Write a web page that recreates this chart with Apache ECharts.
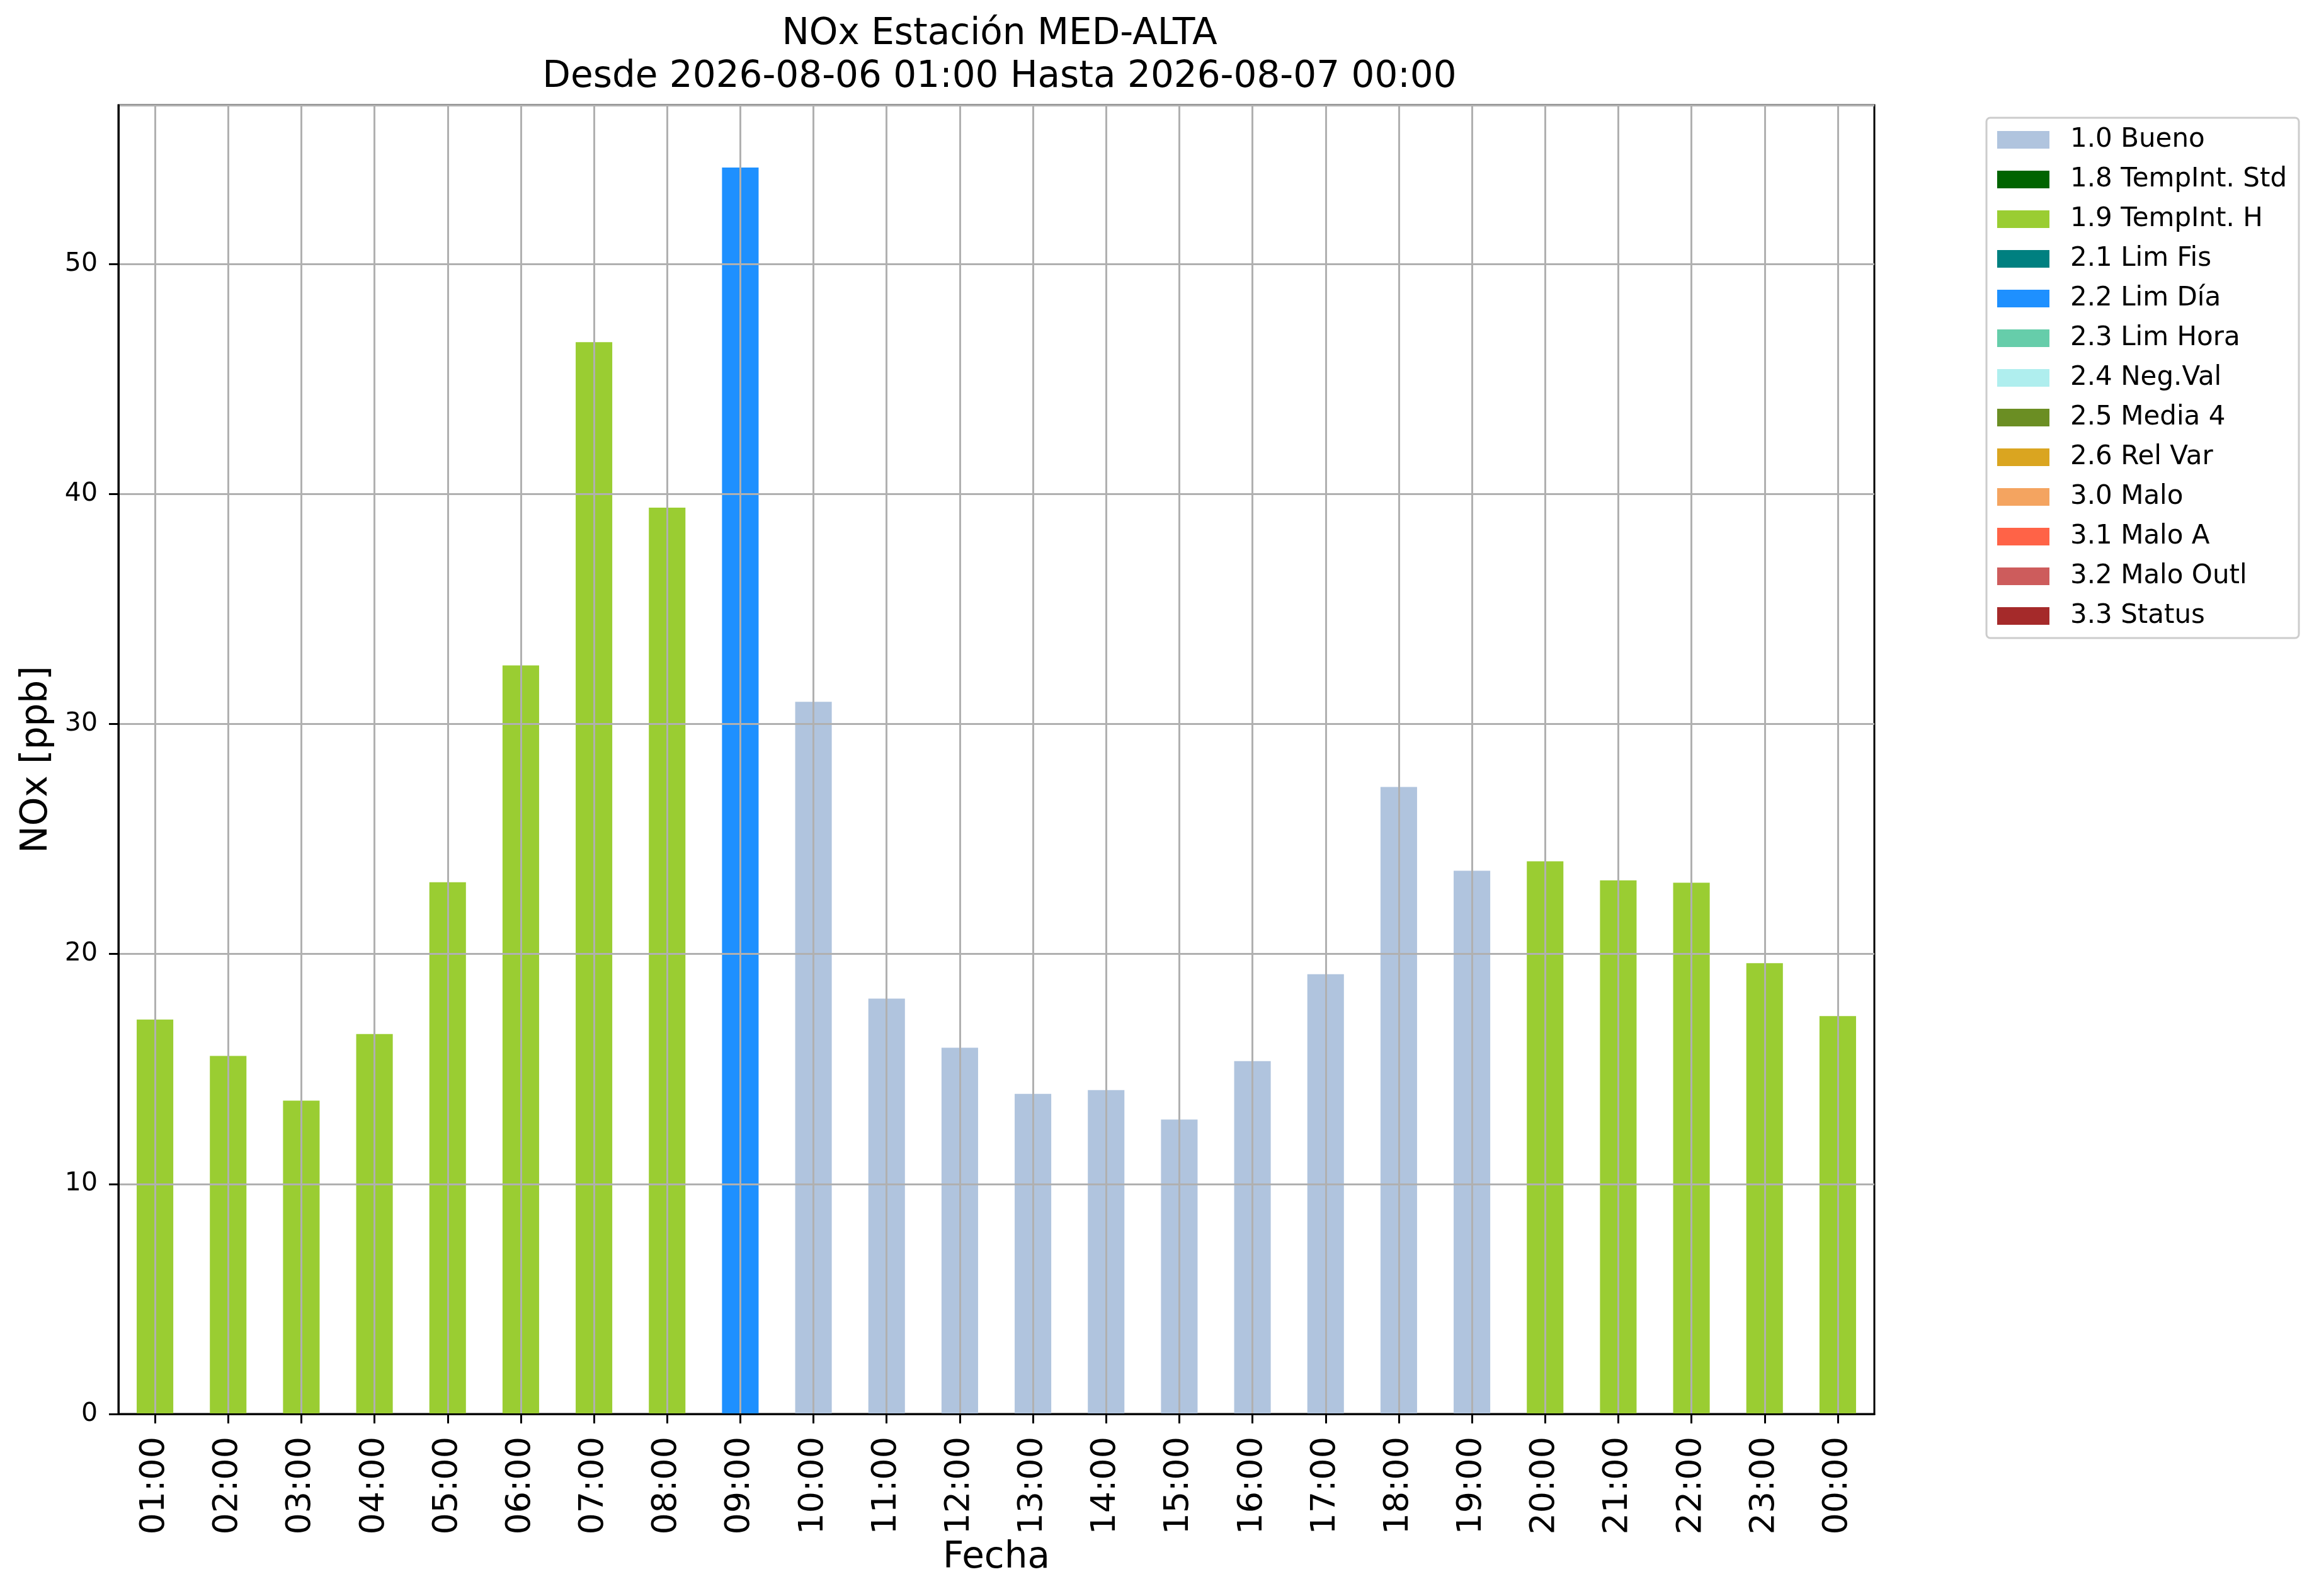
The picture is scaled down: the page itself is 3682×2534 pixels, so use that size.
<!DOCTYPE html>
<html>
<head>
<meta charset="utf-8">
<script src="https://cdn.jsdelivr.net/npm/echarts@6/dist/echarts.min.js"></script>
<style>
html,body{margin:0;padding:0;background:#fff;}
#chart{width:3682px;height:2534px;}
</style>
</head>
<body>
<div id="chart"></div>
<script>
// ---- data ----
const hours = ["01:00","02:00","03:00","04:00","05:00","06:00","07:00","08:00","09:00","10:00","11:00","12:00","13:00","14:00","15:00","16:00","17:00","18:00","19:00","20:00","21:00","22:00","23:00","00:00"];
const noxValues = [17.15,15.57,13.62,16.52,23.12,32.54,46.6,39.4,54.19,30.96,18.06,15.92,13.92,14.08,12.8,15.34,19.12,27.26,23.62,24.03,23.2,23.1,19.6,17.3];
const hourFlags = ["1.9 TempInt. H","1.9 TempInt. H","1.9 TempInt. H","1.9 TempInt. H","1.9 TempInt. H","1.9 TempInt. H","1.9 TempInt. H","1.9 TempInt. H","2.2 Lim Día","1.0 Bueno","1.0 Bueno","1.0 Bueno","1.0 Bueno","1.0 Bueno","1.0 Bueno","1.0 Bueno","1.0 Bueno","1.0 Bueno","1.0 Bueno","1.9 TempInt. H","1.9 TempInt. H","1.9 TempInt. H","1.9 TempInt. H","1.9 TempInt. H"];
const flagNames = ["1.0 Bueno","1.8 TempInt. Std","1.9 TempInt. H","2.1 Lim Fis","2.2 Lim Día","2.3 Lim Hora","2.4 Neg.Val","2.5 Media 4","2.6 Rel Var","3.0 Malo","3.1 Malo A","3.2 Malo Outl","3.3 Status"];
const flagColors = ["#B0C4DE","#006400","#9ACD32","#008080","#1E90FF","#66CDAA","#AFEEEE","#6B8E23","#DAA520","#F4A460","#FF6347","#CD5C5C","#A52A2A"];
const yTicks = [0,10,20,30,40,50];

const FONT = "DejaVu Sans";
const chart = echarts.init(document.getElementById('chart'), null, {renderer:'canvas'});

const yMax = Math.max(...noxValues) * 1.05;

const series = flagNames.map((name, k) => ({
  name: name,
  type: 'bar',
  stack: 'nox',
  barWidth: '50%',
  z: 2,
  itemStyle: {color: flagColors[k]},
  data: noxValues.map((v, i) => hourFlags[i] === name ? v : null)
}));

chart.setOption({
  animation: false,
  backgroundColor: '#ffffff',
  title: {
    text: "NOx Estación MED-ALTA\nDesde 2026-08-06 01:00 Hasta 2026-08-07 00:00",
    left: 1582,
    textAlign: 'center',
    top: 16,
    textStyle: {fontFamily: FONT, fontSize: 58, fontWeight: 'normal', color: '#000', lineHeight: 68}
  },
  legend: {
    orient: 'vertical',
    left: 3154,
    top: 187,
    padding: [14, 19, 14, 17],
    itemWidth: 83,
    itemHeight: 28,
    itemGap: 21,
    icon: 'rect',
    borderColor: '#cccccc',
    borderWidth: 3,
    borderRadius: 6,
    backgroundColor: '#ffffff',
    data: flagNames,
    textStyle: {fontFamily: FONT, fontSize: 42, color: '#000', padding: [0,0,0,28]}
  },
  grid: {
    left: 188, top: 167, right: 706, bottom: 289,
    show: true, borderColor: '#000', borderWidth: 3, backgroundColor: 'transparent'
  },
  xAxis: {
    type: 'category',
    data: hours,
    boundaryGap: true,
    z: 5,
    name: 'Fecha',
    nameLocation: 'middle',
    nameGap: 192,
    nameTextStyle: {fontFamily: FONT, fontSize: 58, color: '#000'},
    axisLine: {show: true, lineStyle: {color: '#000', width: 3}},
    axisTick: {show: true, alignWithLabel: true, length: 15, lineStyle: {color: '#000', width: 3}},
    axisLabel: {rotate: 90, fontFamily: FONT, fontSize: 54, color: '#000', margin: 36, interval: 0},
    splitLine: {show: true, alignWithLabel: true, interval: 0, lineStyle: {color: '#b0b0b0', width: 3}}
  },
  yAxis: {
    type: 'value',
    min: 0,
    max: yMax,
    interval: 10,
    z: 5,
    name: 'NOx [ppb]',
    nameLocation: 'middle',
    nameRotate: 90,
    nameGap: 100,
    nameTextStyle: {fontFamily: FONT, fontSize: 58, color: '#000'},
    axisLine: {show: true, lineStyle: {color: '#000', width: 3}},
    axisTick: {show: true, length: 15, lineStyle: {color: '#000', width: 3}},
    axisLabel: {fontFamily: FONT, fontSize: 41, color: '#000', margin: 33, showMaxLabel: false,
      formatter: v => yTicks.includes(v) ? String(v) : ''},
    splitLine: {show: true, lineStyle: {color: '#b0b0b0', width: 3}}
  },
  series: series
});
</script>
</body>
</html>
